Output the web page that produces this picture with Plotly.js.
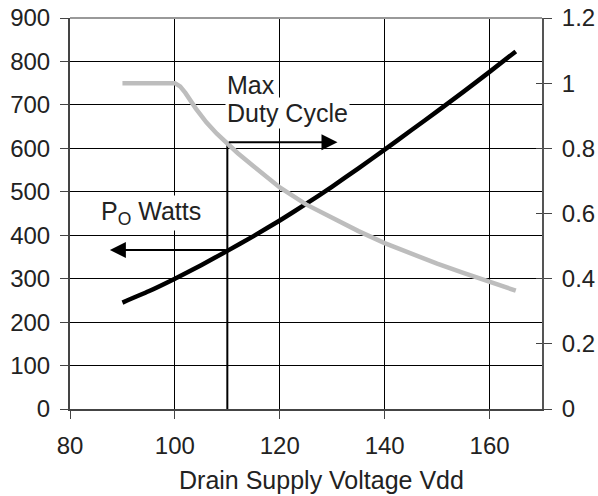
<!DOCTYPE html>
<html>
<head>
<meta charset="utf-8">
<script src="https://cdn.plot.ly/plotly-3.0.1.min.js"></script>
<style>html,body{margin:0;padding:0;background:#fff;}#chart{width:598px;height:496px;}</style>
</head>
<body>
<div id="chart"></div>
<script>
// Data
const vdd = [90, 95, 100, 105, 110, 115, 120, 125, 130, 135, 140, 145, 150, 155, 160, 165];
const poWatts = [245, 271, 300, 331, 364, 398, 434, 472, 512, 554, 597, 641, 685, 730, 776, 823];
const vddDuty = [90, 100, 101, 102, 104, 106, 108, 110, 112, 115, 120, 125, 130, 135, 140, 145, 150, 155, 160, 165];
const dutyCycle = [1.0, 1.0, 0.99, 0.97, 0.922, 0.88, 0.845, 0.815, 0.785, 0.745, 0.68, 0.628, 0.586, 0.546, 0.509, 0.476, 0.446, 0.418, 0.391, 0.363];
const xTicks = [80, 100, 120, 140, 160];
const markerVdd = 110;          // marked operating point
const markerDutyLeft = 614;     // duty cycle ~0.82 expressed on left scale
const markerPo = 366;           // Po at marker
const arrowRightEnd = 131;
const arrowLeftEnd = 87.6;

const font = "Liberation Sans, Arial, Helvetica, sans-serif";
const txt = "#222";
const tickSize = 24;
const textSize = 25;

const traces = [
  {x: vddDuty, y: dutyCycle, yaxis: 'y2', mode: 'lines',
   line: {color: '#bdbdbd', width: 4.5, shape: 'linear'}, hoverinfo: 'skip'},
  {x: vdd, y: poWatts, mode: 'lines',
   line: {color: '#000', width: 4.5, shape: 'spline', smoothing: 0.5}, hoverinfo: 'skip'},
  {x: [markerVdd, markerVdd], y: [0, markerDutyLeft], mode: 'lines',
   line: {color: '#000', width: 2}, hoverinfo: 'skip'},
  {x: [], y: [], yaxis: 'y3', mode: 'lines', hoverinfo: 'skip'}
];

const layout = {
  width: 598, height: 496,
  margin: {l: 70, r: 56, t: 18, b: 87},
  paper_bgcolor: '#fff', plot_bgcolor: '#fff',
  showlegend: false,
  font: {family: font, size: tickSize, color: txt},
  xaxis: {
    range: [80, 170], tickvals: xTicks, ticktext: xTicks.map(String),
    showgrid: true, gridcolor: '#000', gridwidth: 1,
    showline: true, linecolor: '#444', linewidth: 2,
    ticks: 'outside', ticklen: 8, tickcolor: '#444', tickwidth: 1,
    ticklabelstandoff: 6,
    zeroline: false, tickfont: {size: tickSize, color: txt, family: font}
  },
  yaxis: {
    range: [0, 900], dtick: 100, tick0: 0,
    showgrid: true, gridcolor: '#000', gridwidth: 1,
    showline: true, linecolor: '#444', linewidth: 2,
    ticks: 'outside', ticklen: 8, tickcolor: '#444', tickwidth: 1,
    ticklabelstandoff: 5,
    zeroline: false, tickfont: {size: tickSize, color: txt, family: font}
  },
  yaxis2: {
    overlaying: 'y', side: 'right', range: [0, 1.2], dtick: 0.2, tick0: 0,
    showgrid: false, zeroline: false,
    showline: true, linecolor: '#555', linewidth: 2,
    ticks: 'outside', ticklen: 8, tickcolor: '#444', tickwidth: 1,
    ticklabelstandoff: 5,
    tickfont: {size: tickSize, color: txt, family: font}
  },
  yaxis3: {
    overlaying: 'y', side: 'right', range: [0, 1.2], dtick: 0.2, tick0: 0,
    showgrid: false, zeroline: false, showline: false, showticklabels: false,
    ticks: 'inside', ticklen: 6, tickcolor: '#444', tickwidth: 1
  },
  shapes: [
    {type: 'line', xref: 'paper', yref: 'paper', x0: 0, x1: 1, y0: 1, y1: 1,
     line: {color: '#999', width: 2}}
  ],
  annotations: [
    {x: arrowRightEnd, y: markerDutyLeft, ax: markerVdd, ay: markerDutyLeft,
     xref: 'x', yref: 'y', axref: 'x', ayref: 'y', text: '', showarrow: true,
     arrowhead: 2, arrowsize: 1.6, arrowwidth: 2, arrowcolor: '#000', standoff: 0, startstandoff: 0},
    {x: arrowLeftEnd, y: markerPo, ax: markerVdd, ay: markerPo,
     xref: 'x', yref: 'y', axref: 'x', ayref: 'y', text: '', showarrow: true,
     arrowhead: 2, arrowsize: 1.6, arrowwidth: 2, arrowcolor: '#000', standoff: 0, startstandoff: 0},
    {x: markerVdd, y: 746, xref: 'x', yref: 'y', text: 'Max', showarrow: false,
     xanchor: 'left', yanchor: 'middle', bgcolor: '#fff', xshift: -2,
     font: {size: textSize, color: txt, family: font}},
    {x: markerVdd, y: 681, xref: 'x', yref: 'y', text: 'Duty Cycle', showarrow: false,
     xanchor: 'left', yanchor: 'middle', bgcolor: '#fff', xshift: -2,
     font: {size: textSize, color: txt, family: font}},
    {x: 85.5, y: 451, xref: 'x', yref: 'y', text: 'P<sub>O</sub> Watts', showarrow: false,
     xanchor: 'left', yanchor: 'middle', bgcolor: '#fff',
     font: {size: textSize, color: txt, family: font}},
    {x: 0.532, y: -0.182, xref: 'paper', yref: 'paper', text: 'Drain Supply Voltage Vdd',
     showarrow: false, xanchor: 'center', yanchor: 'middle',
     font: {size: textSize, color: txt, family: font}}
  ]
};

Plotly.newPlot('chart', traces, layout, {staticPlot: true, displayModeBar: false});
</script>
</body>
</html>
